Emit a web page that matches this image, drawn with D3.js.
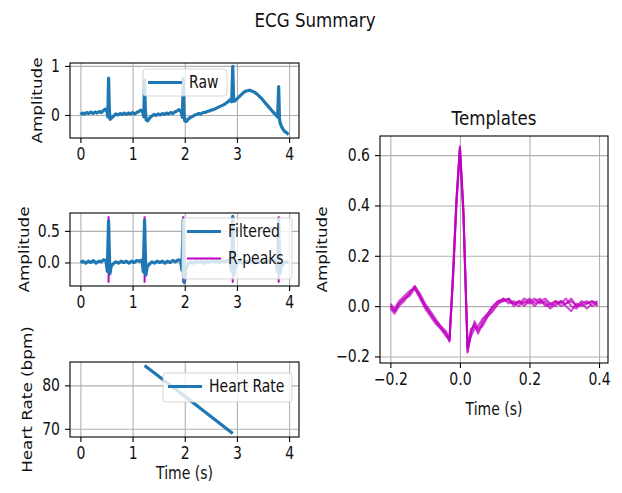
<!DOCTYPE html>
<html>
<head>
<meta charset="utf-8">
<script src="https://cdn.jsdelivr.net/npm/d3@7"></script>
<style>
body { margin: 0; background: #fff; }
text { font-family: "DejaVu Sans", sans-serif; fill: #111; }
</style>
</head>
<body>
<div id="chart"></div>
<script>
/*
 * Raw signal, [time (s), amplitude].
 */
var rawSignal = [
    [0.00,0.01],[0.04,0.04],[0.08,0.02],[0.12,0.05],[0.16,0.03],[0.20,0.06],[0.24,0.03],[0.28,0.06],
    [0.32,0.04],[0.36,0.07],[0.40,0.05],[0.44,0.09],[0.48,0.12],[0.51,0.06],[0.525,-0.04],[0.54,0.75],
    [0.555,0.10],[0.57,-0.09],[0.60,-0.06],[0.64,-0.02],[0.68,0.02],[0.72,0.00],[0.76,0.03],[0.80,0.01],
    [0.84,0.04],[0.88,0.01],[0.92,0.04],[0.96,0.02],[1.00,0.05],[1.04,0.02],[1.08,0.05],[1.12,0.07],
    [1.16,0.10],[1.19,0.07],[1.215,-0.04],[1.23,0.72],[1.245,0.08],[1.26,-0.10],[1.29,-0.12],[1.33,-0.06],
    [1.37,-0.02],[1.41,0.01],[1.45,-0.01],[1.49,0.02],[1.53,0.00],[1.57,0.03],[1.61,0.01],[1.65,0.04],
    [1.69,0.02],[1.73,0.05],[1.77,0.03],[1.81,0.06],[1.85,0.08],[1.89,0.11],[1.93,0.07],[1.955,-0.05],
    [1.97,0.74],[1.985,0.06],[2.00,-0.12],[2.03,-0.13],[2.07,-0.08],[2.11,-0.05],[2.15,-0.03],[2.19,0.00],
    [2.23,0.01],[2.27,0.03],[2.31,0.02],[2.35,0.05],[2.39,0.05],[2.43,0.07],[2.47,0.08],[2.51,0.10],
    [2.55,0.11],[2.59,0.13],[2.63,0.15],[2.67,0.17],[2.71,0.19],[2.75,0.21],[2.79,0.24],[2.83,0.27],
    [2.87,0.31],[2.90,0.27],[2.92,0.99],[2.935,0.34],[2.95,0.28],[2.98,0.31],[3.02,0.35],[3.06,0.39],
    [3.10,0.43],[3.14,0.47],[3.18,0.49],[3.22,0.50],[3.26,0.50],[3.30,0.48],[3.34,0.46],[3.38,0.43],
    [3.42,0.39],[3.46,0.35],[3.50,0.30],[3.54,0.25],[3.58,0.20],[3.62,0.15],[3.66,0.10],[3.70,0.05],
    [3.74,0.01],[3.78,-0.04],[3.80,0.58],[3.815,-0.08],[3.83,-0.17],[3.86,-0.25],[3.89,-0.30],[3.92,-0.34],
    [3.95,-0.36],[3.99,-0.40]
];
/*
 * Filtered signal, [time (s), amplitude].
 */
var filteredSignal = [
    [0.00,0.00],[0.05,0.02],[0.10,-0.01],[0.15,0.02],[0.20,0.00],[0.25,0.03],[0.30,-0.01],[0.35,0.02],
    [0.40,0.01],[0.44,0.04],[0.49,0.03],[0.515,-0.14],[0.53,0.35],[0.54,0.66],[0.55,0.30],[0.565,-0.18],
    [0.59,-0.06],[0.63,-0.02],[0.68,0.01],[0.73,-0.01],[0.78,0.02],[0.83,0.00],[0.88,0.02],[0.93,-0.01],
    [0.98,0.02],[1.03,0.00],[1.08,0.03],[1.13,0.02],[1.18,0.04],[1.205,-0.15],[1.22,0.36],[1.23,0.67],
    [1.24,0.30],[1.255,-0.20],[1.28,-0.07],[1.32,-0.03],[1.37,0.01],[1.42,-0.01],[1.47,0.02],[1.52,0.00],
    [1.57,0.02],[1.62,-0.01],[1.67,0.02],[1.72,0.00],[1.77,0.03],[1.82,0.01],[1.87,0.04],[1.92,0.03],
    [1.945,-0.12],[1.96,0.36],[1.97,0.68],[1.98,0.30],[1.995,-0.32],[2.02,-0.10],[2.06,-0.03],[2.11,0.01],
    [2.16,-0.01],[2.21,0.02],[2.26,0.00],[2.31,0.02],[2.36,-0.01],[2.41,0.02],[2.46,0.00],[2.51,0.03],
    [2.56,0.01],[2.61,0.02],[2.66,0.00],[2.71,0.03],[2.76,0.01],[2.81,0.03],[2.87,0.04],[2.895,-0.14],
    [2.91,0.38],[2.92,0.73],[2.93,0.32],[2.945,-0.19],[2.97,-0.07],[3.01,-0.02],[3.06,0.01],[3.11,-0.01],
    [3.16,0.02],[3.21,0.00],[3.26,0.02],[3.31,-0.01],[3.36,0.02],[3.41,0.00],[3.46,0.03],[3.51,0.01],
    [3.56,0.02],[3.61,0.00],[3.66,0.03],[3.71,0.02],[3.75,0.04],[3.775,-0.15],[3.79,0.36],[3.80,0.69],
    [3.81,0.30],[3.825,-0.18],[3.85,-0.06],[3.89,-0.02],[3.94,0.01],[3.99,0.00]
];
/*
 * R-peak times (s).
 */
var rPeakTimes = [0.54, 1.23, 1.97, 2.92, 3.80];
/*
 * Instantaneous heart rate, [time (s), bpm].
 */
var heartRate = [[1.23, 84.6], [1.97, 77.8], [2.92, 68.9]];
/*
 * Template time axis (s) and the individual heartbeat templates.
 */
var templateTime = [-0.200,-0.188,-0.175,-0.160,-0.145,-0.130,-0.115,-0.100,-0.085,-0.070,-0.055,-0.040,
    -0.030,-0.020,-0.010,0.000,0.010,0.022,0.032,0.042,0.052,0.065,0.080,0.095,0.110,0.125,0.140,0.155,
    0.170,0.185,0.200,0.215,0.230,0.245,0.260,0.275,0.290,0.305,0.320,0.335,0.350,0.365,0.380,0.396];
var templates = [
    [0.00,-0.02,0.01,0.03,0.05,0.08,0.04,0.00,-0.03,-0.06,-0.08,-0.11,-0.14,0.12,0.42,0.635,0.38,-0.185,
     -0.10,-0.07,-0.11,-0.07,-0.04,-0.01,0.01,0.03,0.02,0.01,0.02,0.00,0.02,0.03,0.01,0.02,0.00,0.02,0.01,
     0.03,0.00,-0.01,0.01,0.02,0.00,0.01],
    [0.01,-0.01,0.02,0.04,0.06,0.07,0.03,-0.01,-0.04,-0.07,-0.09,-0.12,-0.13,0.10,0.40,0.62,0.36,-0.17,
     -0.12,-0.09,-0.08,-0.05,-0.03,0.00,0.02,0.02,0.03,0.01,0.00,0.02,0.01,0.02,0.03,0.00,0.01,0.02,0.00,
     0.01,0.02,0.00,0.02,0.01,0.02,0.00],
    [-0.01,-0.03,0.00,0.02,0.05,0.08,0.05,0.01,-0.02,-0.05,-0.08,-0.10,-0.13,0.13,0.43,0.63,0.37,-0.16,
     -0.09,-0.08,-0.10,-0.06,-0.03,0.00,0.02,0.03,0.01,0.02,0.01,0.03,0.02,0.00,0.02,0.01,-0.01,0.01,0.02,
     0.00,-0.02,0.01,0.00,0.01,0.02,0.01],
    [0.00,-0.02,0.01,0.03,0.04,0.07,0.04,0.00,-0.03,-0.06,-0.09,-0.11,-0.14,0.11,0.41,0.63,0.39,-0.18,
     -0.11,-0.06,-0.09,-0.08,-0.04,-0.02,0.01,0.02,0.03,0.00,0.02,0.01,0.03,0.01,0.02,0.03,0.01,0.00,0.02,
     0.01,0.03,0.00,0.01,-0.01,0.01,0.02]
];
/*
 * Tick values.
 */
var timeTicks = [0, 1, 2, 3, 4];
var rawTicks = [0, 1];
var filteredTicks = [0, 0.5];
var heartRateTicks = [70, 80];
var templateXTicks = [-0.2, 0, 0.2, 0.4];
var templateYTicks = [-0.2, 0, 0.2, 0.4, 0.6];


/**
 * ECG summary figure.
 * @public
 * @class
 */
function EcgSummary() {
    /**
     * Vertical stretch of the glyphs.
     * @private
     * @member {Number}
     */
    this._sy = 1.2;
    /**
     * Colors.
     * @private
     * @member {Object}
     */
    this._colors = {
        blue: '#1f77b4',
        magenta: '#bf00bf',
        grid: '#b0b0b0'
    };
    /**
     * Axes boxes.
     * @private
     * @member {Object}
     */
    this._boxes = {
        raw:      {left: 70,  right: 299, top: 63,  bottom: 138},
        filtered: {left: 70,  right: 299, top: 213, bottom: 286},
        rate:     {left: 70,  right: 299, top: 362, bottom: 437},
        template: {left: 380, right: 608, top: 136, bottom: 363}
    };
}


/**
 * Pad extent like matplotlib autoscale does.
 * @private
 * @param {Number[]} extent
 * @returns {Number[]}
 */
EcgSummary.prototype._pad = function(extent) {

    var d = (extent[1] - extent[0]) * 0.05;

    return [extent[0] - d, extent[1] + d];
};


/**
 * Append text.
 * @private
 */
EcgSummary.prototype._text = function(g, str, x, y, size, anchor, rotate) {

    return g.append('text')
        .attr('transform', 'translate(' + x + ',' + y + ') scale(1,' + this._sy + ')' + (rotate ? ' rotate(-90)' : ''))
        .attr('text-anchor', anchor || 'middle')
        .attr('dy', '0.35em')
        .style('font-size', size + 'px')
        .text(str);
};


/**
 * Build one axes: grid, ticks, frame.
 * @private
 */
EcgSummary.prototype._axes = function(box, xDomain, yDomain, xTicks, yTicks, xFormat, yFormat) {

    var self = this;
    var x = d3.scaleLinear().domain(xDomain).range([box.left, box.right]);
    var y = d3.scaleLinear().domain(yDomain).range([box.bottom, box.top]);
    var h = box.bottom - box.top;
    var w = box.right - box.left;
    var g = this._svg.append('g');
    var id = 'clip' + Math.round(box.left) + '_' + Math.round(box.top);
    /*
     * Grid.
     */
    g.append('g')
        .attr('transform', 'translate(0,' + box.bottom + ')')
        .call(d3.axisBottom(x).tickValues(xTicks).tickSize(-h).tickFormat(''));
    g.append('g')
        .attr('transform', 'translate(' + box.left + ',0)')
        .call(d3.axisLeft(y).tickValues(yTicks).tickSize(-w).tickFormat(''));
    g.selectAll('.domain').remove();
    g.selectAll('.tick line')
        .attr('stroke', this._colors.grid)
        .attr('stroke-width', 1.1);
    /*
     * Clip path for data.
     */
    this._defs.append('clipPath').attr('id', id)
        .append('rect')
        .attr('x', box.left).attr('y', box.top)
        .attr('width', w).attr('height', h);
    var plot = g.append('g').attr('clip-path', 'url(#' + id + ')');
    /*
     * Tick axes.
     */
    var xa = g.append('g')
        .attr('transform', 'translate(0,' + box.bottom + ')')
        .call(d3.axisBottom(x).tickValues(xTicks).tickSize(5).tickPadding(5).tickFormat(xFormat));
    var ya = g.append('g')
        .attr('transform', 'translate(' + box.left + ',0)')
        .call(d3.axisLeft(y).tickValues(yTicks).tickSize(5).tickPadding(5).tickFormat(yFormat));
    [xa, ya].forEach(function(a) {
        a.select('.domain').remove();
        a.selectAll('.tick line').attr('stroke', '#000').attr('stroke-width', 1.1);
        a.selectAll('.tick text')
            .style('font-size', '14px')
            .attr('fill', null);
    });
    xa.selectAll('.tick text')
        .attr('y', 10 / self._sy)
        .attr('transform', 'scale(1,' + self._sy + ')');
    ya.selectAll('.tick text')
        .attr('transform', 'scale(1,' + self._sy + ')');

    return {x: x, y: y, g: g, plot: plot, box: box};
};


/**
 * Draw axes frame on top.
 * @private
 */
EcgSummary.prototype._frame = function(ax) {

    ax.g.append('rect')
        .attr('x', ax.box.left).attr('y', ax.box.top)
        .attr('width', ax.box.right - ax.box.left)
        .attr('height', ax.box.bottom - ax.box.top)
        .attr('fill', 'none')
        .attr('stroke', '#000')
        .attr('stroke-width', 1.1);
};


/**
 * Draw legend.
 * @private
 */
EcgSummary.prototype._legend = function(ax, rect, items) {

    var self = this;
    var g = ax.g.append('g');

    g.append('rect')
        .attr('x', rect.x).attr('y', rect.y)
        .attr('width', rect.w).attr('height', rect.h)
        .attr('rx', 3)
        .attr('fill', '#fff').attr('fill-opacity', 0.8)
        .attr('stroke', '#ccc').attr('stroke-opacity', 0.8);

    items.forEach(function(d, i) {
        var yy = rect.y + 13.5 + i * 27;
        g.append('line')
            .attr('x1', rect.x + 5).attr('x2', rect.x + 39)
            .attr('y1', yy).attr('y2', yy)
            .attr('stroke', d.color)
            .attr('stroke-width', d.width);
        self._text(g, d.label, rect.x + 46, yy, 14, 'start');
    });
};


/**
 * Render figure.
 * @public
 * @param {String} selection
 * @returns {EcgSummary}
 */
EcgSummary.prototype.renderTo = function(selection) {

    var self = this;
    var c = this._colors;
    var fmt0 = d3.format('d');
    var fmt1 = d3.format('.1f');

    this._svg = d3.select(selection).append('svg')
        .attr('width', 622)
        .attr('height', 493);
    this._defs = this._svg.append('defs');
    /*
     * Shared time domain.
     */
    var timeDomain = this._pad(d3.extent(rawSignal, d => d[0]));
    var line = function(ax) {
        return d3.line().x(d => ax.x(d[0])).y(d => ax.y(d[1]));
    };
    /*
     * Raw panel.
     */
    var raw = this._axes(this._boxes.raw, timeDomain,
        this._pad(d3.extent(rawSignal, d => d[1])), timeTicks, rawTicks, fmt0, fmt0);
    raw.plot.append('path')
        .attr('d', line(raw)(rawSignal))
        .attr('fill', 'none').attr('stroke', c.blue)
        .attr('stroke-width', 3.2).attr('stroke-linejoin', 'round');
    this._frame(raw);
    this._legend(raw, {x: 143, y: 69, w: 84, h: 27}, [
        {label: 'Raw', color: c.blue, width: 3.2}
    ]);
    this._text(this._svg, 'Amplitude', 37, (raw.box.top + raw.box.bottom) / 2, 14, 'middle', true);
    /*
     * Filtered panel.
     */
    var fExtent = d3.extent(filteredSignal, d => d[1]);
    var filtered = this._axes(this._boxes.filtered, timeDomain,
        this._pad(fExtent), timeTicks, filteredTicks, fmt0, fmt1);
    filtered.plot.selectAll('.rpeak')
        .data(rPeakTimes)
        .enter().append('line')
        .attr('x1', d => filtered.x(d)).attr('x2', d => filtered.x(d))
        .attr('y1', filtered.y(fExtent[0])).attr('y2', filtered.y(fExtent[1]))
        .attr('stroke', c.magenta).attr('stroke-width', 2);
    filtered.plot.append('path')
        .attr('d', line(filtered)(filteredSignal))
        .attr('fill', 'none').attr('stroke', c.blue)
        .attr('stroke-width', 3.2).attr('stroke-linejoin', 'round');
    this._frame(filtered);
    this._legend(filtered, {x: 182, y: 218, w: 110, h: 61}, [
        {label: 'Filtered', color: c.blue, width: 3.2},
        {label: 'R-peaks', color: c.magenta, width: 2}
    ]);
    this._text(this._svg, 'Amplitude', 24.5, (filtered.box.top + filtered.box.bottom) / 2, 14, 'middle', true);
    /*
     * Heart rate panel.
     */
    var rate = this._axes(this._boxes.rate, timeDomain,
        this._pad(d3.extent(heartRate, d => d[1])), timeTicks, heartRateTicks, fmt0, fmt0);
    rate.plot.append('path')
        .attr('d', line(rate)(heartRate))
        .attr('fill', 'none').attr('stroke', c.blue)
        .attr('stroke-width', 3.2);
    this._frame(rate);
    this._legend(rate, {x: 163, y: 373, w: 129, h: 29}, [
        {label: 'Heart Rate', color: c.blue, width: 3.2}
    ]);
    this._text(this._svg, 'Heart Rate (bpm)', 27.5, (rate.box.top + rate.box.bottom) / 2, 14, 'middle', true);
    this._text(this._svg, 'Time (s)', (rate.box.left + rate.box.right) / 2, 473, 14);
    /*
     * Templates panel.
     */
    var allValues = d3.merge(templates);
    var tmpl = this._axes(this._boxes.template,
        this._pad(d3.extent(templateTime)), this._pad(d3.extent(allValues)),
        templateXTicks, templateYTicks, fmt1, fmt1);
    var tLine = d3.line().x((d, i) => tmpl.x(templateTime[i])).y(d => tmpl.y(d));
    tmpl.plot.selectAll('.template')
        .data(templates)
        .enter().append('path')
        .attr('d', tLine)
        .attr('fill', 'none').attr('stroke', c.magenta)
        .attr('stroke-width', 2).attr('stroke-opacity', 0.7)
        .attr('stroke-linejoin', 'round');
    this._frame(tmpl);
    this._text(this._svg, 'Templates', (tmpl.box.left + tmpl.box.right) / 2, 118, 16.7);
    this._text(this._svg, 'Amplitude', 322, (tmpl.box.top + tmpl.box.bottom) / 2, 14, 'middle', true);
    this._text(this._svg, 'Time (s)', (tmpl.box.left + tmpl.box.right) / 2, 409, 14);
    /*
     * Figure title.
     */
    this._text(this._svg, 'ECG Summary', 315, 20, 16.7);

    return this;
};


new EcgSummary().renderTo('#chart');
</script>
</body>
</html>
